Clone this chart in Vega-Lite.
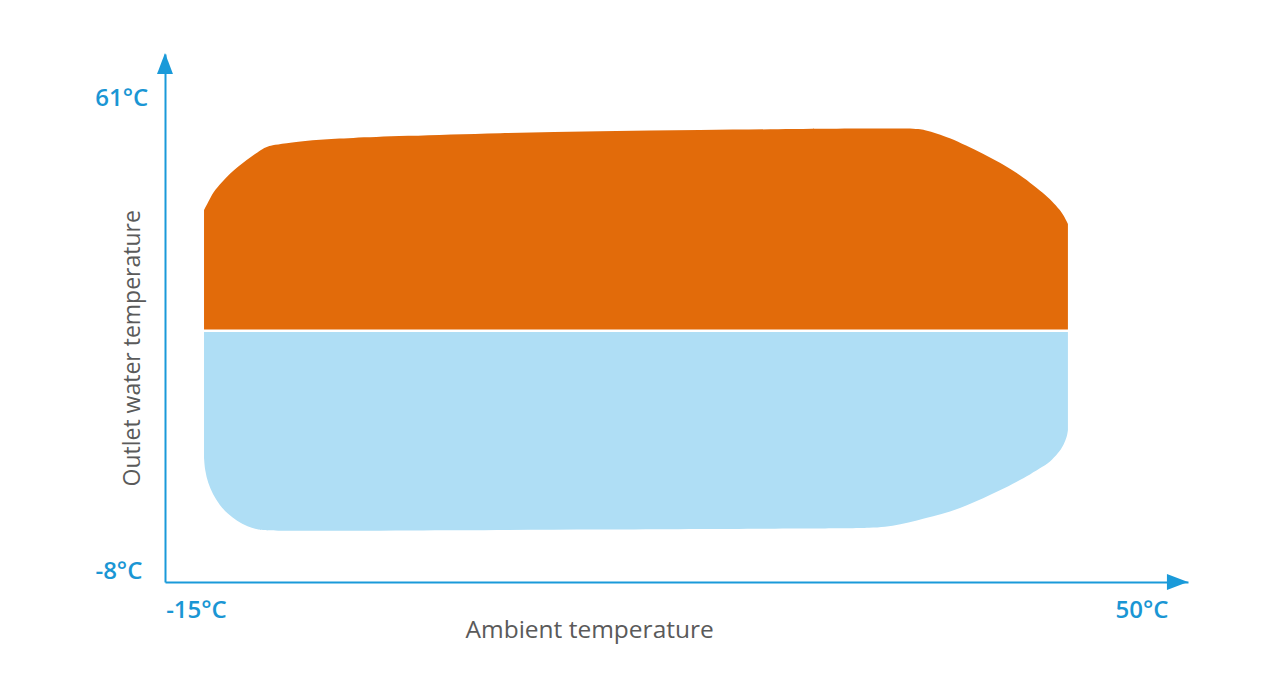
{
  "$schema": "https://vega.github.io/schema/vega-lite/v6.json",
  "autosize": {"type": "none"},
  "width": 1023,
  "height": 528,
  "padding": {"left": 165, "top": 54, "right": 92, "bottom": 106},
  "background": "white",
  "config": {"view": {"stroke": null}},
  "datasets": {
    "heat": [
      {"t": -12.52, "top": 40.61}, {"t": -12.27, "top": 41.57}, {"t": -11.93, "top": 43.01},
      {"t": -11.40, "top": 44.21}, {"t": -10.87, "top": 45.41}, {"t": -10.34, "top": 46.30},
      {"t": -9.81, "top": 47.15}, {"t": -9.28, "top": 47.93}, {"t": -8.75, "top": 48.68},
      {"t": -8.46, "top": 48.91}, {"t": -8.12, "top": 49.11}, {"t": -7.06, "top": 49.43},
      {"t": -5.15, "top": 49.85}, {"t": -3.25, "top": 50.02}, {"t": -0.07, "top": 50.28},
      {"t": 6.29, "top": 50.68}, {"t": 12.64, "top": 50.94}, {"t": 18.99, "top": 51.07},
      {"t": 25.35, "top": 51.20}, {"t": 29.16, "top": 51.26}, {"t": 32.53, "top": 51.29},
      {"t": 33.29, "top": 51.07}, {"t": 34.05, "top": 50.61}, {"t": 34.88, "top": 50.02},
      {"t": 35.89, "top": 49.04}, {"t": 36.97, "top": 48.00}, {"t": 38.05, "top": 46.82},
      {"t": 39.13, "top": 45.45}, {"t": 39.96, "top": 44.21}, {"t": 40.79, "top": 42.84},
      {"t": 41.36, "top": 41.79}, {"t": 41.87, "top": 40.61}, {"t": 42.12, "top": 39.83},
      {"t": 42.31, "top": 39.05}, {"t": 42.37, "top": 38.78}
    ],
    "cool": [
      {"t": -12.52, "bottom": 8.20}, {"t": -12.46, "bottom": 6.55}, {"t": -12.27, "bottom": 4.94},
      {"t": -11.96, "bottom": 3.43}, {"t": -11.54, "bottom": 2.08}, {"t": -11.02, "bottom": 0.90},
      {"t": -10.43, "bottom": -0.05}, {"t": -9.76, "bottom": -0.76}, {"t": -9.06, "bottom": -1.19},
      {"t": -8.33, "bottom": -1.34}, {"t": -0.07, "bottom": -1.27}, {"t": 12.64, "bottom": -1.14},
      {"t": 25.35, "bottom": -1.01}, {"t": 28.52, "bottom": -0.98}, {"t": 29.79, "bottom": -0.92},
      {"t": 30.75, "bottom": -0.81}, {"t": 31.70, "bottom": -0.49}, {"t": 32.78, "bottom": 0.04},
      {"t": 33.80, "bottom": 0.56}, {"t": 34.88, "bottom": 1.19}, {"t": 35.96, "bottom": 2.00},
      {"t": 36.97, "bottom": 2.91}, {"t": 38.05, "bottom": 3.96}, {"t": 39.13, "bottom": 5.11},
      {"t": 39.96, "bottom": 6.05}, {"t": 40.79, "bottom": 7.07}, {"t": 41.36, "bottom": 7.94},
      {"t": 41.87, "bottom": 9.12}, {"t": 42.12, "bottom": 10.03}, {"t": 42.31, "bottom": 10.99},
      {"t": 42.37, "bottom": 11.86}
    ],
    "ticklabels": [
      {"label": "61°C", "x": -17.75, "y": 55.12},
      {"label": "-8°C", "x": -17.93, "y": -6.63},
      {"label": "-15°C", "x": -13.0, "y": -11.76},
      {"label": "50°C", "x": 47.08, "y": -11.76}
    ]
  },
  "layer": [
    {
      "data": {"name": "heat"},
      "mark": {"type": "area", "interpolate": "basis", "color": "#e26b0a", "opacity": 1},
      "encoding": {
        "x": {"field": "t", "type": "quantitative",
              "scale": {"domain": [-15, 50], "nice": false, "zero": false},
              "axis": {"title": null, "labels": false, "ticks": false, "grid": false,
                       "domainColor": "#1a9ad9", "domainWidth": 2}},
        "y": {"field": "top", "type": "quantitative",
              "scale": {"domain": [-8, 61], "nice": false, "zero": false},
              "axis": {"title": null, "labels": false, "ticks": false, "grid": false,
                       "domainColor": "#1a9ad9", "domainWidth": 2}},
        "y2": {"datum": 25.0}
      }
    },
    {
      "data": {"name": "cool"},
      "mark": {"type": "area", "interpolate": "basis", "color": "#afdef5", "opacity": 1},
      "encoding": {
        "x": {"field": "t", "type": "quantitative"},
        "y": {"field": "bottom", "type": "quantitative"},
        "y2": {"datum": 24.67}
      }
    },
    {
      "data": {"values": [{"x": 49.33, "y": -8}]},
      "mark": {"type": "point", "shape": "M-1,-0.76L1,0L-1,0.76Z", "size": 441, "filled": true, "color": "#1a9ad9", "opacity": 1, "clip": false},
      "encoding": {
        "x": {"field": "x", "type": "quantitative"},
        "y": {"field": "y", "type": "quantitative"}
      }
    },
    {
      "data": {"values": [{"x": -15, "y": 59.76}]},
      "mark": {"type": "point", "shape": "M-0.76,1L0,-1L0.76,1Z", "size": 441, "filled": true, "color": "#1a9ad9", "opacity": 1, "clip": false},
      "encoding": {
        "x": {"field": "x", "type": "quantitative"},
        "y": {"field": "y", "type": "quantitative"}
      }
    },
    {
      "data": {"name": "ticklabels"},
      "mark": {"type": "text", "font": "Open Sans", "fontSize": 24, "fontWeight": 600, "color": "#1a96d4", "align": "center", "baseline": "middle", "clip": false},
      "encoding": {
        "x": {"field": "x", "type": "quantitative"},
        "y": {"field": "y", "type": "quantitative"},
        "text": {"field": "label"}
      }
    },
    {
      "data": {"values": [{"label": "Ambient temperature", "x": 11.98, "y": -14.4}]},
      "mark": {"type": "text", "font": "Open Sans", "fontSize": 24.5, "color": "#5a5a5a", "align": "center", "baseline": "middle", "clip": false},
      "encoding": {
        "x": {"field": "x", "type": "quantitative"},
        "y": {"field": "y", "type": "quantitative"},
        "text": {"field": "label"}
      }
    },
    {
      "data": {"values": [{"label": "Outlet water temperature", "x": -17.03, "y": 22.54}]},
      "mark": {"type": "text", "font": "Open Sans", "fontSize": 23, "angle": 270, "color": "#5a5a5a", "align": "center", "baseline": "middle", "clip": false},
      "encoding": {
        "x": {"field": "x", "type": "quantitative"},
        "y": {"field": "y", "type": "quantitative"},
        "text": {"field": "label"}
      }
    }
  ]
}
